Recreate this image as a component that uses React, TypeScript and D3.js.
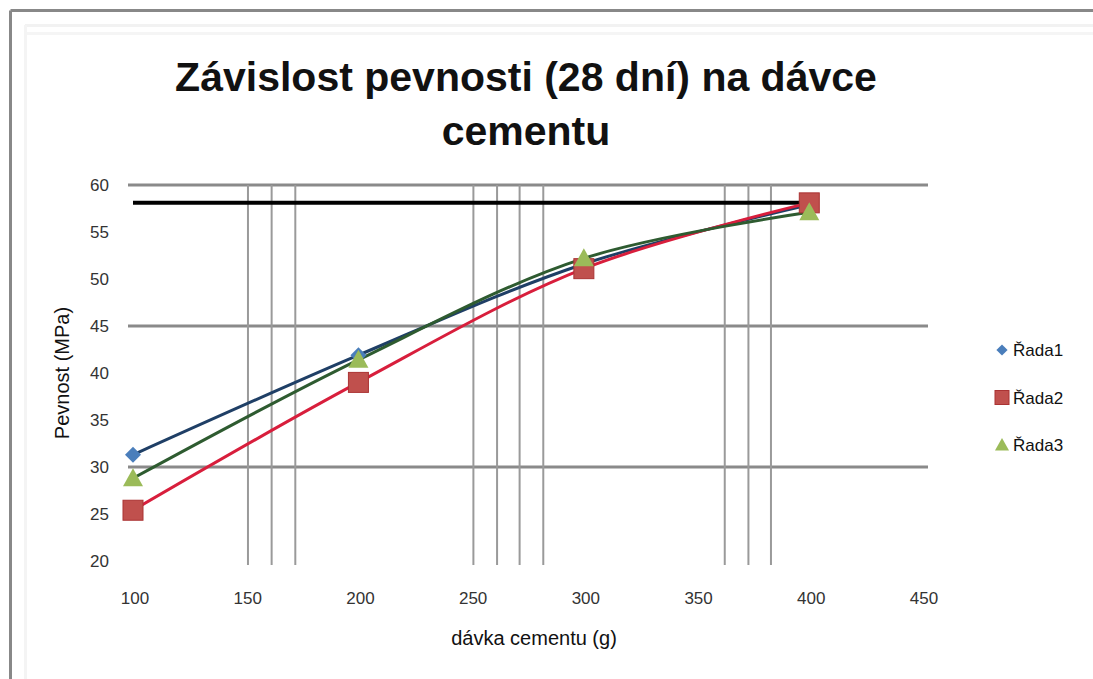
import React from "react";
import * as d3 from "d3";

const xTicks = [100, 150, 200, 250, 300, 350, 400, 450];
const yTicks = [20, 25, 30, 35, 40, 45, 50, 55, 60];
const yGrid = [30, 45, 60];
const vLines = [151, 161.5, 172, 251, 261.5, 271.5, 282, 362.5, 373, 383];
const dose = [100, 200, 300, 400];
const rada1 = [31.3, 41.9, 51.6, 57.9];
const rada2 = [25.4, 39.0, 51.1, 58.1];
const rada3 = [28.8, 41.4, 52.2, 57.1];
const refLine = { value: 58.1, from: 100, to: 404 };
const seriesNames = ["Řada1", "Řada2", "Řada3"];

const W = 1093;
const H = 679;

export default function App() {
  const x = d3.scaleLinear().domain([100, 450]).range([133, 922]);
  const y = d3.scaleLinear().domain([20, 60]).range([561, 185]);
  const line = d3
    .line<[number, number]>()
    .x((d) => x(d[0]))
    .y((d) => y(d[1]))
    .curve(d3.curveCatmullRom.alpha(0.5));

  const series = [
    { name: seriesNames[0], values: rada1, line: "#1f3f66", fill: "#4a7ebb", shape: "diamond" },
    { name: seriesNames[1], values: rada2, line: "#d81e3c", fill: "#c0504d", shape: "square" },
    { name: seriesNames[2], values: rada3, line: "#2e5b30", fill: "#9bbb59", shape: "triangle" },
  ];

  const marker = (shape: string, cx: number, cy: number, fill: string, key: string, k = 1) => {
    if (shape === "square") {
      const s = 10 * k;
      return <rect key={key} x={cx - s} y={cy - s} width={2 * s} height={2 * s} fill={fill} stroke="#a33" strokeWidth={1} />;
    }
    if (shape === "diamond") {
      const s = 8 * k;
      return <path key={key} d={`M${cx},${cy - s}L${cx + s},${cy}L${cx},${cy + s}L${cx - s},${cy}Z`} fill={fill} />;
    }
    const s = 10 * k;
    return <path key={key} d={`M${cx},${cy - s}L${cx + s},${cy + s * 0.8}L${cx - s},${cy + s * 0.8}Z`} fill={fill} />;
  };

  const font = "Liberation Sans, Arial, sans-serif";

  return (
    <svg width={W} height={H} style={{ position: "absolute", left: 0, top: 0, background: "#fff" }} fontFamily={font}>
      <rect x={0} y={0} width={W} height={H} fill="#fff" />
      {/* frame */}
      <line x1={10.5} y1={10.5} x2={W} y2={10.5} stroke="#888" strokeWidth={3} />
      <line x1={10.5} y1={10.5} x2={10.5} y2={H} stroke="#888" strokeWidth={3} />
      <line x1={25} y1={25.5} x2={W} y2={25.5} stroke="#f2f2f2" strokeWidth={3} />
      <line x1={25} y1={33.5} x2={W} y2={33.5} stroke="#f5f5f5" strokeWidth={3} />
      <line x1={25.5} y1={25} x2={25.5} y2={H} stroke="#f4f4f4" strokeWidth={3} />

      {/* title */}
      <text x={526} y={91} textAnchor="middle" fontSize={41} fontWeight="bold" fill="#111">
        Závislost pevnosti (28 dní) na dávce
      </text>
      <text x={526} y={145} textAnchor="middle" fontSize={41} fontWeight="bold" fill="#111">
        cementu
      </text>

      {/* gridlines */}
      {yGrid.map((v) => (
        <line key={"g" + v} x1={128} x2={928} y1={y(v)} y2={y(v)} stroke="#8a8a8a" strokeWidth={3} />
      ))}
      {vLines.map((v) => (
        <line key={"v" + v} x1={x(v)} x2={x(v)} y1={185} y2={565} stroke="#9a9a9a" strokeWidth={2} />
      ))}

      {/* reference line */}
      <line x1={x(refLine.from)} x2={x(refLine.to)} y1={y(refLine.value)} y2={y(refLine.value)} stroke="#000" strokeWidth={4} />

      {/* y tick labels */}
      {yTicks.map((v) => (
        <text key={"yt" + v} x={109} y={y(v) + 6} textAnchor="end" fontSize={17} fill="#333">
          {v}
        </text>
      ))}
      {/* x tick labels */}
      {xTicks.map((v) => (
        <text key={"xt" + v} x={x(v) + 2} y={604} textAnchor="middle" fontSize={17} fill="#333">
          {v}
        </text>
      ))}

      {/* axis titles */}
      <text x={534} y={645} textAnchor="middle" fontSize={20} fill="#111">
        dávka cementu (g)
      </text>
      <text transform={`translate(69,373) rotate(-90)`} textAnchor="middle" fontSize={20} fill="#111">
        Pevnost (MPa)
      </text>

      {/* series lines */}
      {series.map((s) => (
        <path
          key={"l" + s.name}
          d={line(dose.map((d, i) => [d, s.values[i]] as [number, number])) || ""}
          fill="none"
          stroke={s.line}
          strokeWidth={3}
        />
      ))}
      {/* markers */}
      {series.map((s) => dose.map((d, i) => marker(s.shape, x(d), y(s.values[i]), s.fill, s.name + i)))}

      {/* legend */}
      {series.map((s, i) => (
        <g key={"lg" + s.name}>
          {marker(s.shape, 1002, 350 + i * 47.5, s.fill, "lm" + i, 0.7)}
          <text x={1013} y={356 + i * 47.5} fontSize={17} fill="#111">
            {s.name}
          </text>
        </g>
      ))}
    </svg>
  );
}
